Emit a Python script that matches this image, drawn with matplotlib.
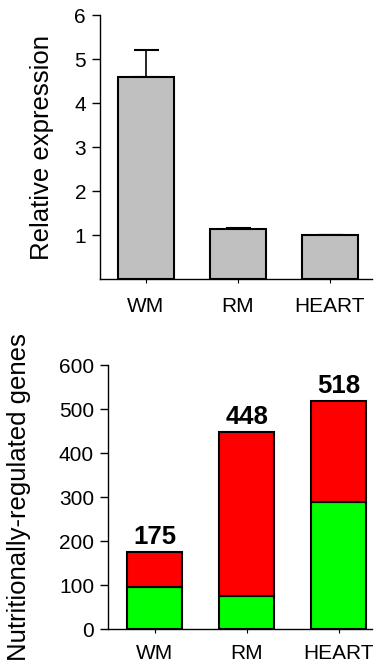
import matplotlib
matplotlib.use("Agg")
import matplotlib.pyplot as plt

plt.rcParams['font.family'] = ['Liberation Sans', 'DejaVu Sans']

tissues = ['WM', 'RM', 'HEART']

# relative expression (top panel)
rel_expr = [4.6, 1.13, 1.0]
rel_err = [0.6, 0.03, 0.0]

# nutritionally-regulated genes (bottom panel)
genes_green = [97, 76, 290]
genes_total = [175, 448, 518]
genes_red = [t - g for t, g in zip(genes_total, genes_green)]


def style_axes(ax, xpad):
    ax.spines['top'].set_visible(False)
    ax.spines['right'].set_visible(False)
    ax.spines['left'].set_linewidth(1.0)
    ax.spines['bottom'].set_linewidth(1.0)
    ax.tick_params(axis='y', direction='out', length=6, width=1.0, labelsize=15, pad=4)
    ax.tick_params(axis='x', direction='out', length=3, width=0.8, labelsize=15, pad=xpad)


fig = plt.figure(figsize=(3.75, 6.63), dpi=100)

# top panel
ax1 = fig.add_axes([0.2667, 0.5792, 0.7253, 0.3977])
x = range(len(tissues))
ax1.bar(x, rel_expr, width=0.61, color='#c0c0c0', edgecolor='black', linewidth=1.5, zorder=2)
ax1.errorbar(x, rel_expr, yerr=[[0] * 3, rel_err], fmt='none', ecolor='black',
             elinewidth=1.2, capsize=9, capthick=1.5, zorder=1)
ax1.set_xlim(-0.5, 2.457)
ax1.set_ylim(0, 6)
ax1.set_yticks([1, 2, 3, 4, 5, 6])
ax1.set_xticks(list(x))
ax1.set_xticklabels(tissues)
ax1.set_ylabel('Relative expression', fontsize=18.5)
ax1.yaxis.set_label_coords(-0.17, 0.5)
style_axes(ax1, 10)

# bottom panel
ax2 = fig.add_axes([0.288, 0.0508, 0.704, 0.3982])
ax2.bar(x, genes_green, width=0.6, color='#00ff00', edgecolor='black', linewidth=1.5)
ax2.bar(x, genes_red, bottom=genes_green, width=0.6, color='#ff0000',
        edgecolor='black', linewidth=1.5)
for xi, total in zip(x, genes_total):
    ax2.text(xi, total + 8, str(total), ha='center', va='bottom',
             fontsize=18.5, fontweight='bold')
ax2.set_xlim(-0.505, 2.36)
ax2.set_ylim(0, 600)
ax2.set_yticks([0, 100, 200, 300, 400, 500, 600])
ax2.set_xticks(list(x))
ax2.set_xticklabels(tissues)
ax2.set_ylabel('Nutritionally-regulated genes', fontsize=18.5)
ax2.yaxis.set_label_coords(-0.29, 0.5)
style_axes(ax2, 7.5)

fig.savefig('out.png', dpi=100)
